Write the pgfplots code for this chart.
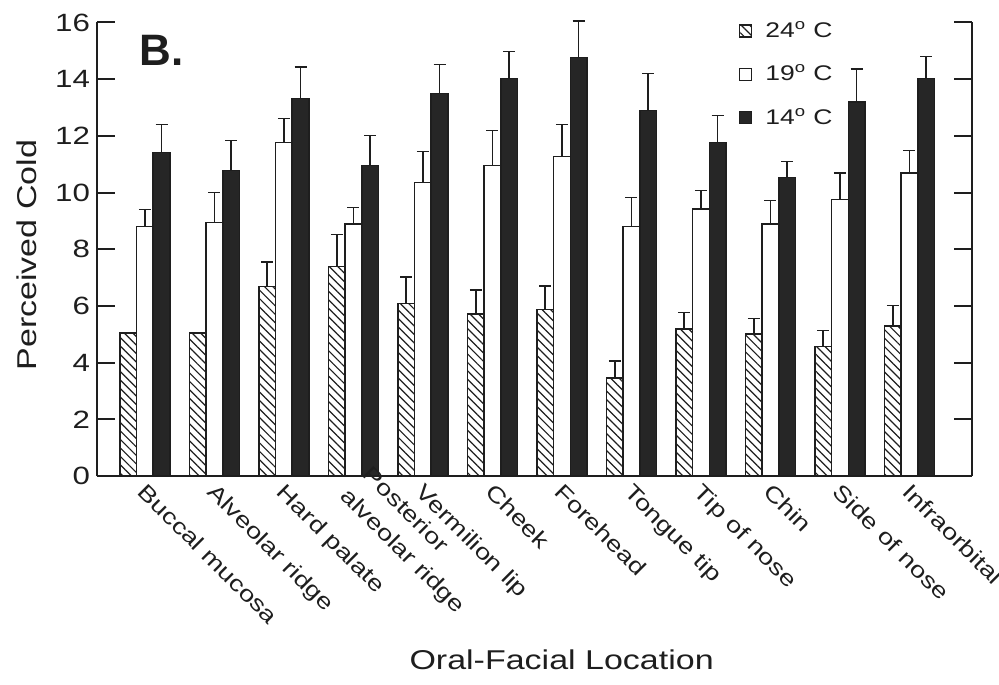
\documentclass[border=0pt]{standalone}
\usepackage{pgfplots}
\pgfplotsset{compat=1.18}
\usepackage{pgfplotstable}
\usetikzlibrary{patterns.meta}
\usepackage{fontspec}
\setmainfont{Liberation Sans}[FakeStretch=1.25]
\newfontfamily\plainsans{Liberation Sans}
\definecolor{ink}{HTML}{1E1E1E}
\definecolor{barblack}{HTML}{262626}

\pgfplotstableread{
x y e
0 5.05 0
1 5.05 0
2 6.69 0.87
3 7.39 1.13
4 6.08 0.95
5 5.72 0.85
6 5.87 0.84
7 3.46 0.60
8 5.18 0.59
9 5.00 0.55
10 4.57 0.56
11 5.30 0.72
}\tabA
\pgfplotstableread{
x y e
0 8.80 0.60
1 8.94 1.06
2 11.77 0.84
3 8.90 0.57
4 10.35 1.10
5 10.95 1.24
6 11.27 1.13
7 8.80 1.02
8 9.43 0.64
9 8.90 0.82
10 9.75 0.95
11 10.70 0.78
}\tabB
\pgfplotstableread{
x y e
0 11.41 0.99
1 10.78 1.06
2 13.32 1.10
3 10.95 1.06
4 13.50 1.02
5 14.03 0.95
6 14.77 1.28
7 12.90 1.30
8 11.77 0.95
9 10.53 0.57
10 13.20 1.15
11 14.03 0.77
}\tabC

\begin{document}
\begin{tikzpicture}
\useasboundingbox (-48.5pt,-104pt) rectangle (451pt,238pt);
\begin{axis}[
  at={(0,0)}, anchor=south west,
  scale only axis,
  width=437.5pt, height=226.75pt,
  xmin=-0.69, xmax=11.9,
  ymin=0, ymax=16,
  clip=false,
  axis x line=bottom,
  axis y line=box,
  x axis line style={-},
  y axis line style={-},
  axis line style={line width=1pt, ink},
  ytick={0,2,...,16},
  yticklabel pos=left,
  ytick pos=both,
  tick align=inside,
  major tick length=9pt,
  every tick/.style={line width=1pt, ink},
  xtick={0,...,11},
  xtick style={draw=none},
  xticklabels={Buccal mucosa, Alveolar ridge, Hard palate, {}, Vermilion lip, Cheek, Forehead, Tongue tip, Tip of nose, Chin, Side of nose, Infraorbital},
  xticklabel style={rotate=-45, anchor=north west, align=left, inner sep=0pt, xshift=-3.2pt, yshift=5.4pt, font=\fontsize{11}{12.5}\selectfont, text=ink},
  yticklabel style={font=\fontsize{12.5}{14}\selectfont, text=ink},
  /pgf/number format/assume math mode=true,
  ylabel={Perceived Cold},
  xlabel={Oral-Facial Location},
  ylabel style={at={(axis description cs:-0.08,0.487)}, anchor=center, font=\fontsize{13.6}{15}\selectfont, text=ink},
  xlabel style={at={(axis description cs:0.531,-0.406)}, anchor=center, font=\fontsize{13.6}{15}\selectfont, text=ink},
  ybar, bar width=0.24,
  legend style={at={(axis description cs:0.733,1.012)}, anchor=north west, draw=none, fill=none, font=\fontsize{10.6}{12}\selectfont, text=ink, row sep=8.25pt, inner sep=0pt, cells={anchor=west}},
  legend cell align=left,
  legend image code/.code={\draw[#1, line width=0.7pt] (0pt,-3pt) rectangle (6pt,3pt); \path (10.5pt,0pt);},
  error bars/error bar style={line width=0.8pt, ink},
  error bars/error mark options={rotate=90, mark size=3pt, line width=0.8pt, ink},
]
\addplot[bar shift=-0.24, draw=ink, line width=0.8pt, fill=white, pattern={Lines[angle=-45,distance=3pt,line width=0.6pt]}, pattern color=ink,
  error bars/.cd, y dir=plus, y explicit]
  table[x=x, y=y, y error=e] {\tabA};
\addlegendentry{24\textsuperscript{o} C}
\addplot[bar shift=0, draw=ink, line width=0.8pt, fill=white,
  error bars/.cd, y dir=plus, y explicit]
  table[x=x, y=y, y error=e] {\tabB};
\addlegendentry{19\textsuperscript{o} C}
\addplot[bar shift=0.24, draw=ink, line width=0.8pt, fill=barblack,
  error bars/.cd, y dir=plus, y explicit]
  table[x=x, y=y, y error=e] {\tabC};
\addlegendentry{14\textsuperscript{o} C}
\node[anchor=base west, font=\plainsans\fontsize{22}{24}\selectfont\bfseries, text=ink, inner sep=0pt] at (axis cs:-0.08,14.5) {B.};
\node[rotate=-45, anchor=north west, align=left, inner sep=0pt, xshift=2.6pt, yshift=11.2pt, font=\fontsize{11}{15.5}\selectfont, text=ink] at (axis cs:3,0) {Posterior\\alveolar ridge};
\end{axis}
\end{tikzpicture}
\end{document}
